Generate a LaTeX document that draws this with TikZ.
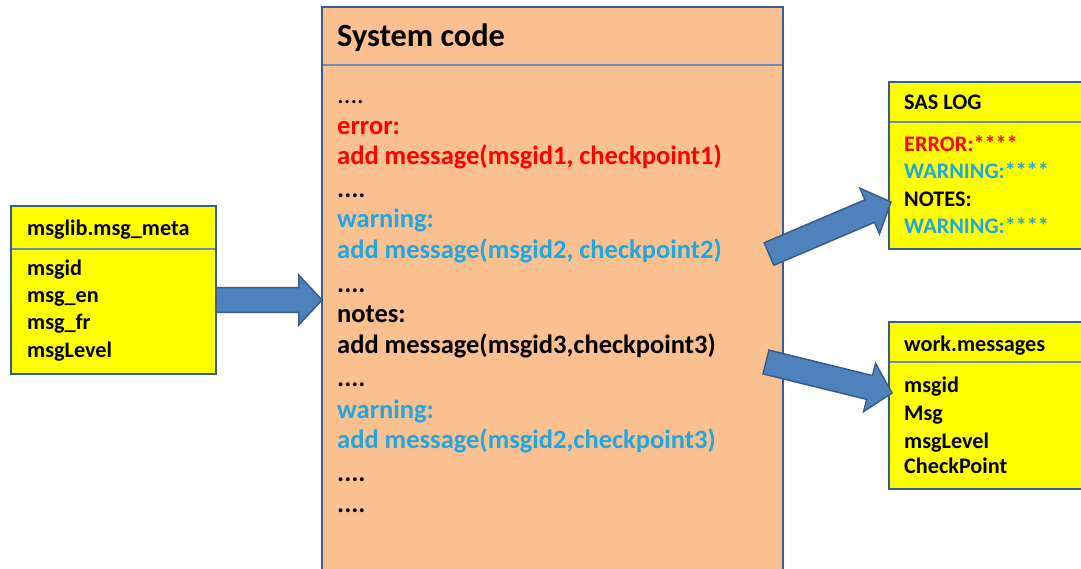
\documentclass[tikz,border=0pt]{standalone}
\usepackage{fontspec}
\setmainfont{Carlito}
\usetikzlibrary{shapes.arrows,calc}
\definecolor{boxborder}{RGB}{56,93,138}
\definecolor{sepline}{RGB}{110,140,185}
\definecolor{codeorange}{RGB}{250,192,144}
\definecolor{boxyellow}{RGB}{255,255,0}
\definecolor{arrowblue}{RGB}{79,129,189}
\definecolor{arrowedge}{RGB}{56,93,138}
\definecolor{codeblue}{RGB}{30,167,225}
\definecolor{codered}{RGB}{255,0,0}
\begin{document}
\begin{tikzpicture}[x=1bp,y=-1bp,
  panel/.style={draw=boxborder, line width=2.5bp, anchor=north west, inner sep=0pt, outer sep=0pt},
  sepl/.style={draw=sepline, line width=1.2bp},
  small/.style={anchor=base west, inner sep=0pt, font=\fontsize{22.3}{26}\selectfont\bfseries},
  code/.style={anchor=base west, inner sep=0pt, font=\fontsize{26.6}{31}\selectfont\bfseries},
  codethin/.style={anchor=base west, inner sep=0pt, font=\fontsize{26.6}{31}\selectfont},
  title/.style={anchor=base west, inner sep=0pt, font=\fontsize{32.5}{38}\selectfont\bfseries},
  fatarrow/.style={single arrow, draw=arrowedge, fill=arrowblue, line width=1.5bp,
    inner xsep=0pt, inner ysep=11.5bp, outer sep=0pt,
    single arrow head extend=12.5bp, single arrow tip angle=94, anchor=tail}]
\path[use as bounding box] (0,0) rectangle (1081,569);
\clip (0,0) rectangle (1081,569);

% central panel
\node (sys) [panel, fill=codeorange, minimum width=461bp, minimum height=580bp] at (322,7) {};
\draw[sepl] (323,65) -- (782,65);
\node (systitle) [title] at (337,47) {System code};
\node (c1) [codethin] at (337,104) {....};
\node (c2) [code, text=codered] at (337,135) {error:};
\node (c3) [code, text=codered] at (337,165) {add message(msgid1, checkpoint1)};
\node (c4) [code] at (337,198) {....};
\node (c5) [code, text=codeblue] at (337,228) {warning:};
\node (c6) [code, text=codeblue] at (337,259) {add message(msgid2, checkpoint2)};
\node (c7) [code] at (337,293) {....};
\node (c8) [code] at (337,323) {notes:};
\node (c9) [code] at (337,353) {add message(msgid3,checkpoint3)};
\node (c10) [code] at (337,386) {....};
\node (c11) [code, text=codeblue] at (337,418) {warning:};
\node (c12) [code, text=codeblue] at (337,448) {add message(msgid2,checkpoint3)};
\node (c13) [code] at (337,481) {....};
\node (c14) [code] at (337,512) {....};

% left box
\node (meta) [panel, fill=boxyellow, minimum width=205bp, minimum height=168bp] at (11,206) {};
\draw[sepl] (12,249) -- (215,249);
\node (metatitle) [small] at (27,236) {msglib.msg\_meta};
\node (m1) [small] at (27,276) {msgid};
\node (m2) [small] at (27,303) {msg\_en};
\node (m3) [small] at (27,329) {msg\_fr};
\node (m4) [small] at (27,357) {msgLevel};

% SAS LOG box
\node (log) [panel, fill=boxyellow, minimum width=200bp, minimum height=167bp] at (889,82) {};
\draw[sepl] (890,122) -- (1088,122);
\node (logtitle) [small] at (904,110) {SAS LOG};
\node (l1) [small, text=codered] at (904,152) {ERROR:****};
\node (l2) [small, text=codeblue] at (904,179) {WARNING:****};
\node (l3) [small] at (904,207) {NOTES:};
\node (l4) [small, text=codeblue] at (904,234) {WARNING:****};

% work.messages box
\node (work) [panel, fill=boxyellow, minimum width=200bp, minimum height=167bp] at (889,322) {};
\draw[sepl] (890,362) -- (1088,362);
\node (worktitle) [small] at (904,351) {work.messages};
\node (w1) [small] at (904,392) {msgid};
\node (w2) [small] at (904,420) {Msg};
\node (w3) [small] at (904,448) {msgLevel};
\node (w4) [small] at (904,473) {CheckPoint};

% arrows
\coordinate (a1s) at (216,300);
\coordinate (a1e) at (322,300);
\coordinate (a2s) at (769,254);
\coordinate (a2e) at (891,202);
\coordinate (a3s) at (766,362);
\coordinate (a3e) at (892,393);
\foreach \s/\e in {a1s/a1e, a2s/a2e, a3s/a3e}{
  \path let \p1=($(\e)-(\s)$), \n1={veclen(\x1,\y1)}, \n2={atan2(\y1,\x1)} in
    node[fatarrow, minimum height=\n1, rotate=\n2] at (\s) {};
}
\end{tikzpicture}
\end{document}
